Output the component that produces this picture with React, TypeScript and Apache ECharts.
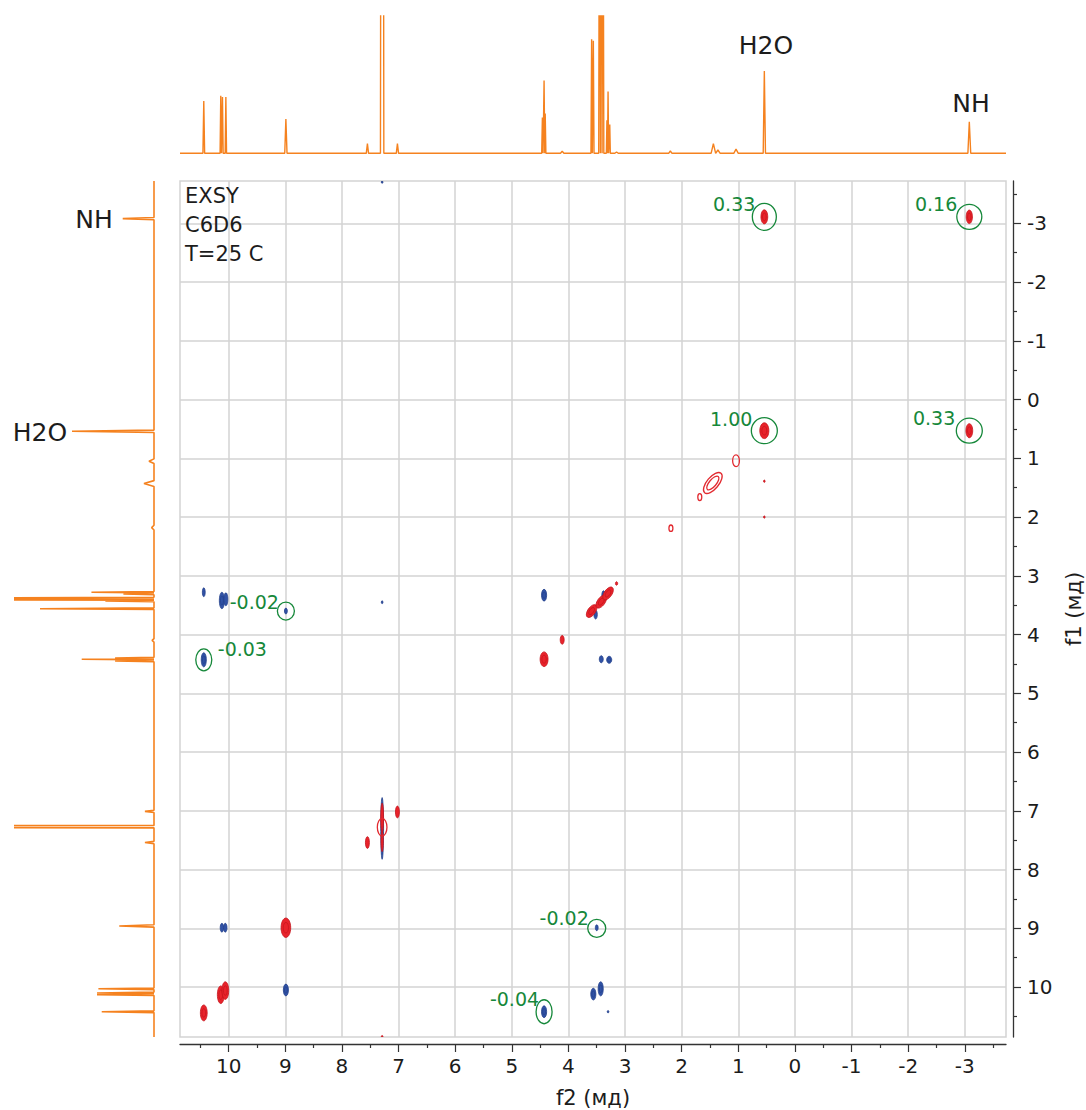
import React, { useEffect, useRef } from "react";
import * as echarts from "echarts";

// ---- axis ranges (ppm) ----
const F2_LEFT = 10.86;
const F2_RIGHT = -3.728;
const F1_TOP = -3.72;
const F1_BOTTOM = 10.85;

const majorTicks = [-3, -2, -1, 0, 1, 2, 3, 4, 5, 6, 7, 8, 9, 10];
const minorTicks = [-3.5, -2.5, -1.5, -0.5, 0.5, 1.5, 2.5, 3.5, 4.5, 5.5, 6.5, 7.5, 8.5, 9.5, 10.5];

// ---- 1D spectrum on top (f2): [ppm, height %, half width ppm] ----
const topPeaks: number[][] = [
  [10.44, 38, 0.015],
  [10.14, 42, 0.012],
  [10.11, 41, 0.012],
  [10.05, 41, 0.012],
  [8.99, 25, 0.02],
  [7.55, 7, 0.02],
  [7.29, 1000, 0.03],
  [7.02, 7, 0.02],
  [4.46, 26, 0.012],
  [4.43, 53, 0.012],
  [4.41, 29, 0.012],
  [4.11, 1.5, 0.03],
  [3.59, 83, 0.012],
  [3.56, 82, 0.012],
  [3.45, 300, 0.015],
  [3.42, 400, 0.015],
  [3.39, 300, 0.015],
  [3.32, 24, 0.01],
  [3.3, 45, 0.01],
  [3.27, 21, 0.01],
  [3.15, 1, 0.03],
  [2.2, 1.7, 0.03],
  [1.44, 7, 0.04],
  [1.36, 2.4, 0.04],
  [1.04, 3, 0.04],
  [0.54, 60, 0.02],
  [-3.08, 23, 0.025],
];

// ---- 1D spectrum on the left (f1): [ppm, height %, half width ppm] ----
const leftPeaks: number[][] = [
  [-3.08, 22.5, 0.02],
  [0.54, 59, 0.02],
  [1.05, 3.6, 0.04],
  [1.43, 7.2, 0.05],
  [2.18, 1.7, 0.04],
  [3.28, 45, 0.012],
  [3.31, 22, 0.012],
  [3.38, 200, 0.014],
  [3.4, 300, 0.014],
  [3.43, 35, 0.012],
  [3.56, 82, 0.014],
  [4.1, 1.4, 0.03],
  [4.4, 28, 0.012],
  [4.42, 52, 0.014],
  [4.45, 28, 0.012],
  [7.01, 6.5, 0.02],
  [7.27, 1000, 0.02],
  [7.54, 6.5, 0.02],
  [8.96, 25, 0.02],
  [10.03, 40, 0.014],
  [10.1, 41, 0.014],
  [10.13, 41, 0.014],
  [10.42, 37.6, 0.015],
];

// ---- 2D peaks: [f2, f1, width f2 (ppm), width f1 (ppm), tilt deg] ----
const redPeaks: number[][] = [
  [0.54, -3.11, 0.12, 0.24, 0],
  [-3.08, -3.11, 0.11, 0.23, 0],
  [0.54, 0.53, 0.16, 0.27, 0],
  [-3.08, 0.53, 0.12, 0.24, 0],
  [3.59, 3.6, 0.26, 0.13, 55],
  [3.42, 3.44, 0.26, 0.13, 55],
  [3.3, 3.3, 0.26, 0.13, 55],
  [4.43, 4.42, 0.14, 0.25, 0],
  [4.11, 4.09, 0.07, 0.15, 0],
  [7.29, 7.12, 0.05, 0.5, 0],
  [7.29, 7.52, 0.04, 0.35, 0],
  [7.02, 7.02, 0.07, 0.2, 0],
  [7.55, 7.54, 0.07, 0.2, 0],
  [8.99, 8.99, 0.17, 0.33, 0],
  [10.14, 10.13, 0.12, 0.3, 0],
  [10.06, 10.06, 0.12, 0.3, 0],
  [10.44, 10.44, 0.12, 0.27, 0],
  [3.15, 3.13, 0.04, 0.06, 0],
  [0.54, 1.39, 0.02, 0.04, 0],
  [0.54, 2.0, 0.02, 0.04, 0],
  [7.29, 10.84, 0.02, 0.03, 0],
];

const redRings: number[][] = [
  [1.04, 1.04, 0.12, 0.2, 0],
  [1.45, 1.42, 0.45, 0.2, 50],
  [1.45, 1.42, 0.3, 0.12, 50],
  [1.68, 1.66, 0.07, 0.12, 0],
  [2.19, 2.19, 0.07, 0.11, 0],
  [7.29, 7.28, 0.17, 0.3, 0],
];

const bluePeaks: number[][] = [
  [7.29, 7.3, 0.05, 1.05, 0],
  [10.44, 3.28, 0.05, 0.15, 0],
  [10.12, 3.42, 0.09, 0.28, 0],
  [10.05, 3.4, 0.07, 0.22, 0],
  [8.99, 3.6, 0.05, 0.1, 0],
  [10.44, 4.43, 0.09, 0.24, 0],
  [7.29, 3.45, 0.03, 0.05, 0],
  [4.43, 3.33, 0.09, 0.2, 0],
  [3.52, 3.66, 0.06, 0.15, 0],
  [3.38, 3.33, 0.06, 0.15, 0],
  [3.42, 4.42, 0.07, 0.12, 0],
  [3.28, 4.43, 0.09, 0.12, 0],
  [10.12, 8.99, 0.06, 0.15, 0],
  [10.06, 8.99, 0.06, 0.15, 0],
  [3.5, 8.99, 0.05, 0.1, 0],
  [8.99, 10.05, 0.09, 0.2, 0],
  [3.56, 10.12, 0.09, 0.2, 0],
  [3.43, 10.03, 0.09, 0.24, 0],
  [4.43, 10.42, 0.09, 0.2, 0],
  [3.3, 10.42, 0.03, 0.04, 0],
  [7.29, -3.7, 0.03, 0.04, 0],
];

// ---- exchange annotations ----
const annPoints: number[][] = [
  [0.54, -3.11],
  [-3.08, -3.11],
  [0.54, 0.53],
  [-3.08, 0.53],
  [8.99, 3.6],
  [10.44, 4.43],
  [3.5, 9.0],
  [4.43, 10.42],
];
const annLabels = ["0.33", "0.16", "1.00", "0.33", "-0.02", "-0.03", "-0.02", "-0.04"];

// layout of annotations (px): [rx, ry, label dx, label dy, align]
const annLayout: any[] = [
  [12, 13.5, -9, -13, "right"],
  [12.5, 12.5, -12, -13, "right"],
  [13, 13, -12, -12, "right"],
  [13, 12.5, -14, -13, "right"],
  [8.5, 9, -7, -9, "right"],
  [8, 11, 14, -11, "left"],
  [9, 9, -8, -10, "right"],
  [8, 12, -5, -13, "right"],
];

const FONT = "'DejaVu Sans', Verdana, sans-serif";
const ORANGE = "#f5821f";
const RED = "#e8232b";
const BLUE = "#3152a6";
const GREEN = "#16883a";
const TEXT = "#1c1c1c";

function topLine(): number[][] {
  const pts: number[][] = [[F2_LEFT, 0]];
  [...topPeaks].sort((a, b) => b[0] - a[0]).forEach(([p, h, w]) => {
    pts.push([p + w, 0], [p, h], [p - w, 0]);
  });
  pts.push([F2_RIGHT, 0]);
  return pts;
}

function leftLine(): number[][] {
  const pts: number[][] = [[0, F1_TOP]];
  [...leftPeaks].sort((a, b) => a[0] - b[0]).forEach(([p, h, w]) => {
    pts.push([0, p - w], [h, p], [0, p + w]);
  });
  pts.push([0, F1_BOTTOM]);
  return pts;
}

function peakRenderer(color: string, edge: string, filled: boolean) {
  return (params: any, api: any) => {
    const c = api.coord([api.value(0), api.value(1)]);
    const s = api.size([api.value(2), api.value(3)]);
    const rot = (api.value(4) * Math.PI) / 180;
    const rx = Math.max(s[0] / 2, 0.8);
    const ry = Math.max(s[1] / 2, 0.8);
    const children: any[] = [];
    if (filled) {
      children.push({
        type: "ellipse",
        x: c[0],
        y: c[1],
        rotation: rot,
        shape: { cx: 0, cy: 0, rx, ry },
        style: { fill: color, stroke: edge, lineWidth: 0.8 },
      });
      if (rx > 2.5 && ry > 2.5) {
        children.push({
          type: "ellipse",
          x: c[0],
          y: c[1],
          rotation: rot,
          shape: { cx: 0, cy: 0, rx: rx * 0.55, ry: ry * 0.55 },
          style: { fill: "none", stroke: edge, lineWidth: 0.7 },
        });
      }
    } else {
      children.push({
        type: "ellipse",
        x: c[0],
        y: c[1],
        rotation: rot,
        shape: { cx: 0, cy: 0, rx, ry },
        style: { fill: "none", stroke: color, lineWidth: 1.3 },
      });
    }
    return { type: "group", children };
  };
}

function annRenderer(params: any, api: any) {
  const i = params.dataIndex;
  const c = api.coord([api.value(0), api.value(1)]);
  const [rx, ry, dx, dy, align] = annLayout[i];
  return {
    type: "group",
    children: [
      {
        type: "ellipse",
        shape: { cx: c[0], cy: c[1], rx, ry },
        style: { fill: "none", stroke: GREEN, lineWidth: 1.3 },
      },
      {
        type: "text",
        x: c[0] + dx,
        y: c[1] + dy,
        style: {
          text: annLabels[i],
          fill: GREEN,
          font: `19px ${FONT}`,
          textAlign: align,
          textVerticalAlign: "middle",
        },
      },
    ],
  };
}

function txt(text: string, x: number, y: number, size: number, align = "left") {
  return {
    type: "text",
    x,
    y,
    style: {
      text,
      fill: TEXT,
      font: `${size}px ${FONT}`,
      textAlign: align,
      textVerticalAlign: "middle",
    },
    z: 100,
  };
}

const axisCommon = {
  type: "value" as const,
  axisLine: { show: true, onZero: false, lineStyle: { color: "#333", width: 1.3 } },
  axisTick: {
    show: true,
    customValues: majorTicks,
    length: 8,
    lineStyle: { color: "#333", width: 1.2 },
  },
  axisLabel: {
    customValues: majorTicks,
    fontSize: 20,
    fontFamily: FONT,
    color: TEXT,
  },
  splitLine: { show: true, lineStyle: { color: "#d3d3d3", width: 1.5 } },
  nameLocation: "middle" as const,
  nameTextStyle: { fontSize: 21, fontFamily: FONT, color: TEXT },
};

const minorAxis = {
  type: "value" as const,
  axisLine: { show: false, onZero: false },
  axisTick: { show: true, customValues: minorTicks, length: 4, lineStyle: { color: "#333", width: 1.2 } },
  axisLabel: { show: false },
  splitLine: { show: false },
};

const option: any = {
  animation: false,
  backgroundColor: "#ffffff",
  grid: [
    {
      left: 180, top: 181, width: 826, height: 856, show: true,
      borderColor: "#d3d3d3", borderWidth: 1.5, backgroundColor: "transparent",
      containLabel: false, outerBoundsMode: "none",
    },
    { left: 180, top: 16, width: 826, height: 137.3, containLabel: false, outerBoundsMode: "none" },
    { left: 15, top: 181, width: 139, height: 856, containLabel: false, outerBoundsMode: "none" },
  ],
  xAxis: [
    {
      ...axisCommon,
      gridIndex: 0,
      min: F2_RIGHT,
      max: F2_LEFT,
      inverse: true,
      position: "bottom",
      offset: 7,
      axisLabel: { ...axisCommon.axisLabel, margin: 12 },
      name: "f2 (мд)",
      nameGap: 43,
    },
    { ...minorAxis, gridIndex: 0, min: F2_RIGHT, max: F2_LEFT, inverse: true, position: "bottom", offset: 7 },
    { type: "value", gridIndex: 1, min: F2_RIGHT, max: F2_LEFT, inverse: true, show: false },
    { type: "value", gridIndex: 2, min: 0, max: 100, inverse: true, show: false },
  ],
  yAxis: [
    {
      ...axisCommon,
      gridIndex: 0,
      min: F1_TOP,
      max: F1_BOTTOM,
      inverse: true,
      position: "right",
      offset: 7,
      axisLabel: { ...axisCommon.axisLabel, margin: 14 },
      name: "f1 (мд)",
      nameGap: 46,
      nameRotate: 90,
    },
    { ...minorAxis, gridIndex: 0, min: F1_TOP, max: F1_BOTTOM, inverse: true, position: "right", offset: 7 },
    { type: "value", gridIndex: 1, min: 0, max: 100, show: false },
    { type: "value", gridIndex: 2, min: F1_TOP, max: F1_BOTTOM, inverse: true, show: false },
  ],
  series: [
    {
      type: "line",
      xAxisIndex: 2,
      yAxisIndex: 2,
      data: topLine(),
      showSymbol: false,
      symbol: "none",
      clip: true,
      silent: true,
      lineStyle: { color: ORANGE, width: 1.4 },
    },
    {
      type: "line",
      xAxisIndex: 3,
      yAxisIndex: 3,
      data: leftLine(),
      showSymbol: false,
      symbol: "none",
      clip: true,
      silent: true,
      lineStyle: { color: ORANGE, width: 1.6 },
    },
    {
      type: "custom",
      xAxisIndex: 0,
      yAxisIndex: 0,
      data: bluePeaks,
      clip: true,
      silent: true,
      renderItem: peakRenderer(BLUE, "#23408a", true),
    },
    {
      type: "custom",
      xAxisIndex: 0,
      yAxisIndex: 0,
      data: redPeaks,
      clip: true,
      silent: true,
      renderItem: peakRenderer(RED, "#c4141c", true),
    },
    {
      type: "custom",
      xAxisIndex: 0,
      yAxisIndex: 0,
      data: redRings,
      clip: true,
      silent: true,
      renderItem: peakRenderer("#e22a30", "#e22a30", false),
    },
    {
      type: "custom",
      xAxisIndex: 0,
      yAxisIndex: 0,
      data: annPoints,
      clip: false,
      silent: true,
      z: 10,
      renderItem: annRenderer,
    },
  ],
  graphic: [
    txt("EXSY", 185, 196, 21),
    txt("C6D6", 185, 225, 21),
    txt("T=25 C", 185, 254, 21),
    txt("H2O", 766, 45, 25, "center"),
    txt("NH", 971, 103, 25, "center"),
    txt("NH", 94, 219, 25, "center"),
    txt("H2O", 40, 432, 25, "center"),
  ],
};

export default function App() {
  const ref = useRef<HTMLDivElement>(null);
  useEffect(() => {
    if (!ref.current) return;
    const chart = echarts.init(ref.current, null, { renderer: "svg" });
    chart.setOption(option);
    return () => chart.dispose();
  }, []);
  return (
    <div
      ref={ref}
      style={{ position: "absolute", left: 0, top: 0, width: 1086, height: 1110, background: "#fff" }}
    />
  );
}
